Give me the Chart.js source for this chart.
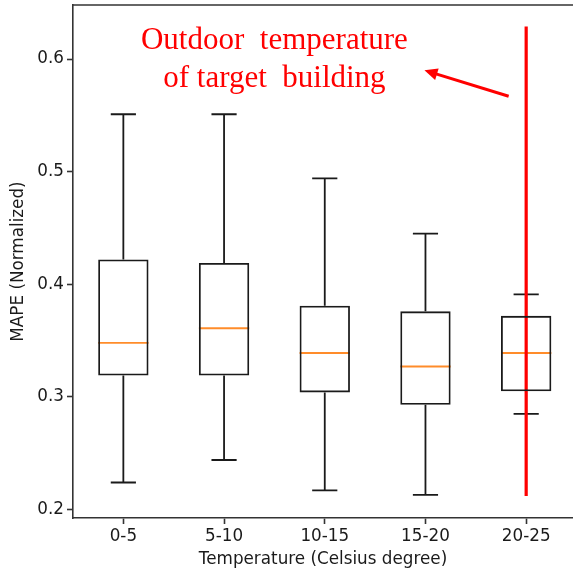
<!DOCTYPE html>
<html>
<head>
<meta charset="utf-8">
<script src="https://cdn.jsdelivr.net/npm/chart.js@4/dist/chart.umd.min.js"></script>
<style>
  body { margin: 0; background: #fff; }
  #wrap { width: 573px; height: 577px; }
</style>
</head>
<body>
<div id="wrap"><canvas id="box-chart"></canvas></div>
<script>
// ─── DATA ─────────────────────────────────────────────
const categories = ['0-5', '5-10', '10-15', '15-20', '20-25'];
const positions  = [1, 2, 3, 4, 5];

const whiskerLow  = [0.224, 0.244, 0.217, 0.213, 0.285];
const q1          = [0.319, 0.319, 0.304, 0.293, 0.305];
const median      = [0.348, 0.361, 0.339, 0.327, 0.339];
const q3          = [0.422, 0.419, 0.381, 0.376, 0.372];
const whiskerHigh = [0.551, 0.551, 0.494, 0.445, 0.391];

const yTicks = [0.2, 0.3, 0.4, 0.5, 0.6];

// red marker: vertical line at 20-25 and arrow pointing at the note
const markerX    = 5;
const markerY    = [0.629, 0.212];
const arrowFrom  = [4.826, 0.567];
const arrowTo    = [3.99, 0.590];
const noteLines  = ['Outdoor  temperature', 'of target  building'];
const noteX      = 2.5;
const noteY      = [0.6087, 0.5754];

const BOX_HALF = 0.25;   // half box width, x units
const CAP_HALF = 0.125;  // half whisker cap width
const INK = '#1a1a1a';
const AXIS = '#333';
const LW = 1.8;
const FONT = { family: '"DejaVu Sans", sans-serif', size: 16.8 };

// ─── PLUGIN: whiskers + medians (behind datasets) ─────
const boxParts = {
  id: 'boxParts',
  beforeDatasetsDraw(chart) {
    const { ctx, scales: { x, y } } = chart;
    ctx.save();
    ctx.lineWidth = LW;
    positions.forEach((p, i) => {
      const cx = x.getPixelForValue(p);
      ctx.strokeStyle = INK;
      ctx.beginPath();
      ctx.moveTo(cx, y.getPixelForValue(q3[i]));
      ctx.lineTo(cx, y.getPixelForValue(whiskerHigh[i]));
      ctx.moveTo(cx, y.getPixelForValue(q1[i]));
      ctx.lineTo(cx, y.getPixelForValue(whiskerLow[i]));
      [whiskerHigh[i], whiskerLow[i]].forEach(v => {
        const py = y.getPixelForValue(v);
        ctx.moveTo(x.getPixelForValue(p - CAP_HALF), py);
        ctx.lineTo(x.getPixelForValue(p + CAP_HALF), py);
      });
      ctx.stroke();

      // median
      ctx.strokeStyle = '#ff8c2a';
      ctx.beginPath();
      const my = y.getPixelForValue(median[i]);
      ctx.moveTo(x.getPixelForValue(p - BOX_HALF), my);
      ctx.lineTo(x.getPixelForValue(p + BOX_HALF), my);
      ctx.stroke();
    });
    ctx.restore();
  },
  afterDatasetsDraw(chart) {
    const { ctx, chartArea, scales: { x, y } } = chart;
    ctx.save();

    // top spine
    ctx.strokeStyle = AXIS;
    ctx.lineWidth = 1.6;
    ctx.beginPath();
    ctx.moveTo(chartArea.left, chartArea.top);
    ctx.lineTo(chartArea.right, chartArea.top);
    ctx.stroke();

    // arrow head
    const x0 = x.getPixelForValue(arrowFrom[0]), y0 = y.getPixelForValue(arrowFrom[1]);
    const x1 = x.getPixelForValue(arrowTo[0]),   y1 = y.getPixelForValue(arrowTo[1]);
    const ang = Math.atan2(y1 - y0, x1 - x0);
    const len = 13, wid = 6;
    ctx.fillStyle = '#ff0000';
    ctx.beginPath();
    ctx.moveTo(x1, y1);
    ctx.lineTo(x1 - len * Math.cos(ang) + wid * Math.sin(ang), y1 - len * Math.sin(ang) - wid * Math.cos(ang));
    ctx.lineTo(x1 - len * Math.cos(ang) - wid * Math.sin(ang), y1 - len * Math.sin(ang) + wid * Math.cos(ang));
    ctx.closePath();
    ctx.fill();

    // note text
    ctx.font = '31px "Liberation Serif", serif';
    ctx.textAlign = 'center';
    ctx.textBaseline = 'alphabetic';
    noteLines.forEach((t, i) => {
      ctx.fillText(t, x.getPixelForValue(noteX), y.getPixelForValue(noteY[i]));
    });
    ctx.restore();
  }
};

// ─── CHART ────────────────────────────────────────────
const ctx = document.getElementById('box-chart').getContext('2d');

new Chart(ctx, {
  type: 'bar',
  data: {
    datasets: [
      {
        label: 'IQR',
        data: positions.map((p, i) => ({ x: p, y: [q1[i], q3[i]] })),
        backgroundColor: 'rgba(0,0,0,0)',
        borderColor: INK,
        borderWidth: LW,
        borderSkipped: false,
        barPercentage: 0.5,
        categoryPercentage: 1
      },
      {
        type: 'line',
        label: 'marker',
        data: markerY.map(v => ({ x: markerX, y: v })),
        borderColor: '#ff0000',
        borderWidth: 3.2,
        pointRadius: 0,
        fill: false
      },
      {
        type: 'line',
        label: 'arrow',
        data: [
          { x: arrowFrom[0], y: arrowFrom[1] },
          { x: arrowTo[0] - (arrowTo[0] - arrowFrom[0]) * 0.05, y: arrowTo[1] - (arrowTo[1] - arrowFrom[1]) * 0.05 }
        ],
        borderColor: '#ff0000',
        borderWidth: 3,
        pointRadius: 0,
        fill: false
      }
    ]
  },
  options: {
    responsive: true,
    maintainAspectRatio: false,
    animation: false,
    layout: { padding: { top: 5, right: 0, left: 0, bottom: 0 } },
    plugins: {
      legend: { display: false },
      tooltip: { enabled: false }
    },
    scales: {
      x: {
        type: 'linear',
        min: 0.5,
        max: 5.465,
        offset: false,
        afterFit: s => { s.height = 59; s.paddingLeft = 0; s.paddingRight = 0; },
        grid: { offset: false, drawOnChartArea: false, tickLength: 6, tickColor: AXIS, tickWidth: 1.6 },
        border: { color: AXIS, width: 1.6 },
        ticks: {
          stepSize: 1,
          includeBounds: false,
          autoSkip: false,
          maxRotation: 0,
          padding: 3,
          color: INK,
          font: FONT,
          callback: v => categories[positions.indexOf(v)] ?? ''
        },
        title: {
          display: true,
          text: 'Temperature (Celsius degree)',
          color: INK,
          font: FONT,
          padding: { top: 0, bottom: 7 }
        }
      },
      y: {
        min: 0.1925,
        max: 0.648,
        afterFit: s => { s.width = 73; s.paddingTop = 0; s.paddingBottom = 0; },
        grid: { drawOnChartArea: false, tickLength: 6, tickColor: AXIS, tickWidth: 1.6 },
        border: { color: AXIS, width: 1.6 },
        ticks: {
          stepSize: 0.1,
          includeBounds: false,
          padding: 3,
          color: INK,
          font: FONT,
          callback: v => yTicks.some(t => Math.abs(t - v) < 1e-6) ? v.toFixed(1) : ''
        },
        title: {
          display: true,
          text: 'MAPE (Normalized)',
          color: INK,
          font: FONT,
          padding: { top: 9, bottom: 0 }
        }
      }
    }
  },
  plugins: [boxParts]
});
</script>
</body>
</html>
